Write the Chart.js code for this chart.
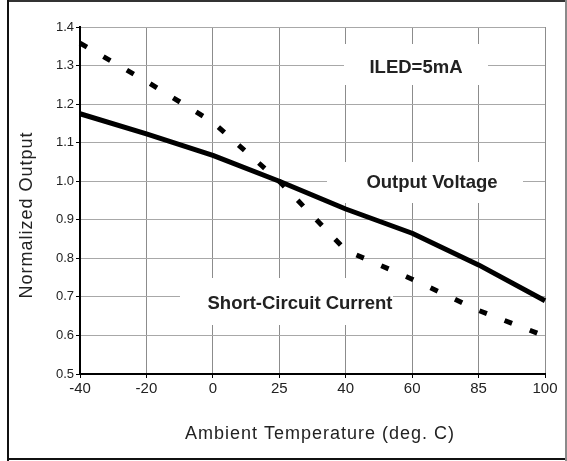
<!DOCTYPE html>
<html>
<head>
<meta charset="utf-8">
<script src="https://cdn.jsdelivr.net/npm/chart.js@4/dist/chart.umd.min.js"></script>
<style>
html,body{margin:0;padding:0;background:#fff;}
#wrap{width:567px;height:461px;position:relative;}
canvas{display:block;}
</style>
</head>
<body>
<div id="wrap"><canvas id="c" width="567" height="461"></canvas></div>
<script>
// ---- data ----
const categories = ['-40', '-20', '0', '25', '40', '60', '85', '100'];
const outputVoltage = [1.175, 1.123, 1.067, 1.0, 0.928, 0.865, 0.783, 0.69];
const shortCircuitCurrent = [1.358, 1.259, 1.153, 1.0, 0.821, 0.746, 0.665, 0.598];
const yTickValues = [0.5, 0.6, 0.7, 0.8, 0.9, 1.0, 1.1, 1.2, 1.3, 1.4];
const seriesNames = ['Output Voltage', 'Short-Circuit Current'];
const noteText = 'ILED=5mA';
const xTitle = 'Ambient Temperature (deg. C)';
const yTitle = 'Normalized Output';

const FAMILY = '"Liberation Sans", Arial, Helvetica, sans-serif';

const decor = {
  id: 'decor',
  beforeDatasetsDraw(chart) {
    const ctx = chart.ctx;
    ctx.save();
    ctx.fillStyle = '#fff';
    ctx.fillRect(344, 44, 144, 41);
    ctx.fillRect(327, 162, 196, 41);
    ctx.fillRect(180, 278, 213, 47);
    ctx.fillStyle = '#222';
    ctx.font = 'bold 18.5px ' + FAMILY;
    ctx.textAlign = 'center';
    ctx.textBaseline = 'middle';
    ctx.fillText(noteText, 416, 68);
    ctx.fillText(seriesNames[0], 432, 183);
    ctx.fillText(seriesNames[1], 300, 304);
    ctx.restore();
  },
  afterDraw(chart) {
    const ctx = chart.ctx;
    ctx.save();
    // outer frame
    ctx.fillStyle = '#333';
    ctx.fillRect(7, 0, 560, 2);
    ctx.fillStyle = '#111';
    ctx.fillRect(7, 0, 2, 461);
    ctx.fillRect(7, 458, 560, 2);
    ctx.fillStyle = '#8a8a8a';
    ctx.fillRect(565, 0, 2, 461);
    // axis titles
    ctx.fillStyle = '#222';
    ctx.font = '18px ' + FAMILY;
    ctx.textAlign = 'center';
    ctx.textBaseline = 'middle';
    try { ctx.letterSpacing = '1px'; } catch (e) {}
    ctx.fillText(xTitle, 320, 434);
    ctx.translate(27, 215);
    ctx.rotate(-Math.PI / 2);
    ctx.fillText(yTitle, 0, 0);
    ctx.restore();
  }
};

new Chart(document.getElementById('c'), {
  type: 'line',
  data: {
    labels: categories,
    datasets: [
      {
        label: seriesNames[0],
        data: outputVoltage,
        borderColor: '#000',
        borderWidth: 5,
        pointRadius: 0,
        tension: 0,
        fill: false,
        borderCapStyle: 'butt',
        borderJoinStyle: 'round'
      },
      {
        label: seriesNames[1],
        data: shortCircuitCurrent,
        borderColor: '#000',
        borderWidth: 5,
        borderDash: [8, 19],
        pointRadius: 0,
        tension: 0,
        fill: false,
        borderCapStyle: 'butt'
      }
    ]
  },
  options: {
    responsive: false,
    animation: false,
    devicePixelRatio: 1,
    layout: { padding: { left: 40, right: 22, top: 27, bottom: 47 } },
    plugins: { legend: { display: false }, tooltip: { enabled: false }, title: { display: false } },
    scales: {
      x: {
        type: 'category',
        offset: false,
        grid: { color: '#8c8c8c', lineWidth: 1, tickLength: 4, tickColor: '#000', drawTicks: true },
        border: { color: '#000', width: 2 },
        ticks: { font: { size: 15, family: FAMILY }, color: '#222', padding: 2, maxRotation: 0, autoSkip: false },
        afterFit(s) { s.height = 40; }
      },
      y: {
        min: 0.5,
        max: 1.4,
        afterBuildTicks(s) { s.ticks = yTickValues.map(v => ({ value: v })); },
        ticks: { font: { size: 13, family: FAMILY }, color: '#222', padding: 2, callback: v => Number(v).toFixed(1) },
        grid: { color: '#a8a8a8', lineWidth: 1, tickLength: 4, tickColor: '#000' },
        border: { color: '#000', width: 2 },
        afterFit(s) { s.width = 40; }
      }
    }
  },
  plugins: [decor]
});
</script>
</body>
</html>
